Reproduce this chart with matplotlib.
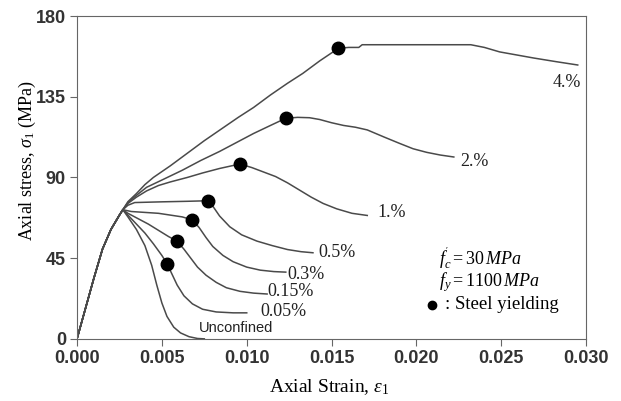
import matplotlib.pyplot as plt

# common ascending branch (up to the unconfined peak)
rise_strain = [0.0, 0.0005, 0.001, 0.0015, 0.002, 0.0025, 0.0027]
rise_stress = [0.0, 17, 34, 50, 61, 69, 72]

labels = ["Unconfined", "0.05%", "0.15%", "0.3%", "0.5%", "1.%", "2.%", "4.%"]

# branches after the peak, one pair per steel ratio
unconf_strain = [0.0030, 0.0035, 0.0040, 0.0044, 0.0047, 0.0050, 0.0053, 0.0057, 0.0061, 0.0066, 0.0071, 0.0075]
unconf_stress = [68, 61, 52, 41, 30, 20, 12.5, 6.5, 3.3, 1.2, 0.2, 0]

p005_strain = [0.0030, 0.0035, 0.0040, 0.0045, 0.0050, 0.0053, 0.0056, 0.0059, 0.0063, 0.0068, 0.0074, 0.0082, 0.0092, 0.0100]
p005_stress = [69, 64, 59, 53, 46.5, 42, 36, 30, 24, 19.5, 16.5, 15, 14.5, 14.5]

p015_strain = [0.0030, 0.0036, 0.0042, 0.0048, 0.0054, 0.0059, 0.0063, 0.0067, 0.0071, 0.0076, 0.0082, 0.0088, 0.0096, 0.0104, 0.0112]
p015_stress = [70, 67, 64, 60.5, 57, 54.5, 50, 45, 40, 35.5, 31.5, 28.5, 26.5, 25.5, 25]

p03_strain = [0.0032, 0.0040, 0.0048, 0.0055, 0.0062, 0.0068, 0.0072, 0.0076, 0.0080, 0.0086, 0.0092, 0.0100, 0.0108, 0.0116, 0.0123]
p03_stress = [71, 70.5, 70, 69, 68, 66.3, 62, 56.5, 51.5, 46.5, 43, 40, 38.3, 37.5, 37.2]

p05_strain = [0.0030, 0.0034, 0.0050, 0.0065, 0.0077, 0.0080, 0.0084, 0.0090, 0.0097, 0.0106, 0.0115, 0.0124, 0.0132, 0.0139]
p05_stress = [74.5, 76, 76.4, 76.7, 77, 74, 68.5, 62.5, 58, 54.5, 52, 49.8, 48.6, 48]

p1_strain = [0.0030, 0.0035, 0.0041, 0.0048, 0.0055, 0.0065, 0.0074, 0.0084, 0.0096, 0.0103, 0.0110, 0.0117, 0.0124,
             0.0131, 0.0138, 0.0145, 0.0153, 0.0162, 0.0171]
p1_stress = [75.5, 79, 82.5, 85.5, 87.5, 90, 92.5, 95, 97.5, 95.5, 93, 90.5, 87, 83, 79, 75.5, 72.5, 70, 68.8]

p2_strain = [0.0030, 0.0035, 0.0041, 0.0051, 0.0062, 0.0073, 0.0084, 0.0094, 0.0104, 0.0114, 0.0123, 0.0130, 0.0137,
             0.0143, 0.0150, 0.0157, 0.0164, 0.0171, 0.0181, 0.0190, 0.0198, 0.0206, 0.0214, 0.0222]
p2_stress = [76, 80, 84.5, 89, 94, 99.5, 104.5, 109.5, 114.5, 119, 123, 123.5, 123.3, 122.3, 120.5, 119, 118, 116.5,
             112.5, 109, 106, 104, 102.5, 101.4]

p4_strain = [0.0030, 0.0035, 0.0040, 0.0045, 0.0055, 0.0065, 0.0075, 0.0085, 0.0095, 0.0104, 0.0114, 0.0124, 0.0133,
             0.0143, 0.0154, 0.0160, 0.0166, 0.0168, 0.0232, 0.0240, 0.0249, 0.0259, 0.0269, 0.0282, 0.0295]
p4_stress = [76.5, 81, 86, 90, 96.5, 103.5, 110.5, 117, 123.5, 129, 136, 142.5, 148, 155, 162, 162.5, 162.5, 164, 164,
             162.5, 160, 158.3, 156.6, 154.6, 152.7]

branch_strain = [unconf_strain, p005_strain, p015_strain, p03_strain, p05_strain, p1_strain, p2_strain, p4_strain]
branch_stress = [unconf_stress, p005_stress, p015_stress, p03_stress, p05_stress, p1_stress, p2_stress, p4_stress]

# steel yielding points
yield_strain = [0.0053, 0.0059, 0.0068, 0.0077, 0.0096, 0.0123, 0.0154]
yield_stress = [42, 54.5, 66.3, 77, 97.5, 123, 162]

plt.rcParams['font.family'] = ['Liberation Serif', 'DejaVu Serif']
plt.rcParams['mathtext.fontset'] = 'custom'
plt.rcParams['mathtext.rm'] = 'Liberation Serif'
plt.rcParams['mathtext.it'] = 'Liberation Serif:italic'

fig = plt.figure(figsize=(6.21, 4.01), dpi=100)
ax = fig.add_axes([0.124, 0.155, 0.820, 0.805])

line_col = '#4a4a4a'
for xs, ys in zip(branch_strain, branch_stress):
    ax.plot(rise_strain + xs, rise_stress + ys, color=line_col, lw=1.1)

ax.plot(yield_strain, yield_stress, 'o', color='black', ms=9, zorder=5)

# curve labels (left edge, vertical centre)
lab_x = [0.0072, 0.0108, 0.0112, 0.0124, 0.0142, 0.0177, 0.0226, 0.0280]
lab_y = [6.1, 15.5, 26.2, 35.7, 48.0, 70.2, 98.7, 142.7]
for lab, x, y in zip(labels, lab_x, lab_y):
    if lab == "Unconfined":
        ax.text(x, y, lab, fontsize=10.5, family='Liberation Sans', va='center', ha='left', color='#222222')
    else:
        ax.text(x, y, lab, fontsize=13, va='center', ha='left', color='#222222')

ax.text(0.0213, 45.2, r"$f_c^{'} = 30\,MPa$", fontsize=13, va='center')
ax.text(0.0213, 31.8, r"$f_y = 1100\,MPa$", fontsize=13, va='center')
ax.plot([0.0209], [19.0], 'o', color='black', ms=6)
ax.text(0.0217, 19.0, ": Steel yielding", fontsize=13.5, va='center')

ax.set_xlim(0, 0.030)
ax.set_ylim(0, 180)
ax.set_xticks([0.0, 0.005, 0.010, 0.015, 0.020, 0.025, 0.030])
ax.set_xticklabels(["0.000", "0.005", "0.010", "0.015", "0.020", "0.025", "0.030"])
ax.set_yticks([0, 45, 90, 135, 180])
for lbl in ax.get_xticklabels() + ax.get_yticklabels():
    lbl.set_family('Liberation Sans')
    lbl.set_fontsize(13)
    lbl.set_weight('bold')
    lbl.set_color('#333333')
ax.tick_params(direction='out', length=5, color='#666666', top=False, right=False, pad=3)
for s in ax.spines.values():
    s.set_color('#666666')

ax.set_xlabel(r"Axial Strain, $\varepsilon_1$", fontsize=14)
ax.set_ylabel(r"Axial stress, $\sigma_1$ (MPa)", fontsize=13)
ax.xaxis.set_label_coords(0.495, -0.118)
ax.yaxis.set_label_coords(-0.077, 0.551)

fig.savefig("out.png", dpi=100)
